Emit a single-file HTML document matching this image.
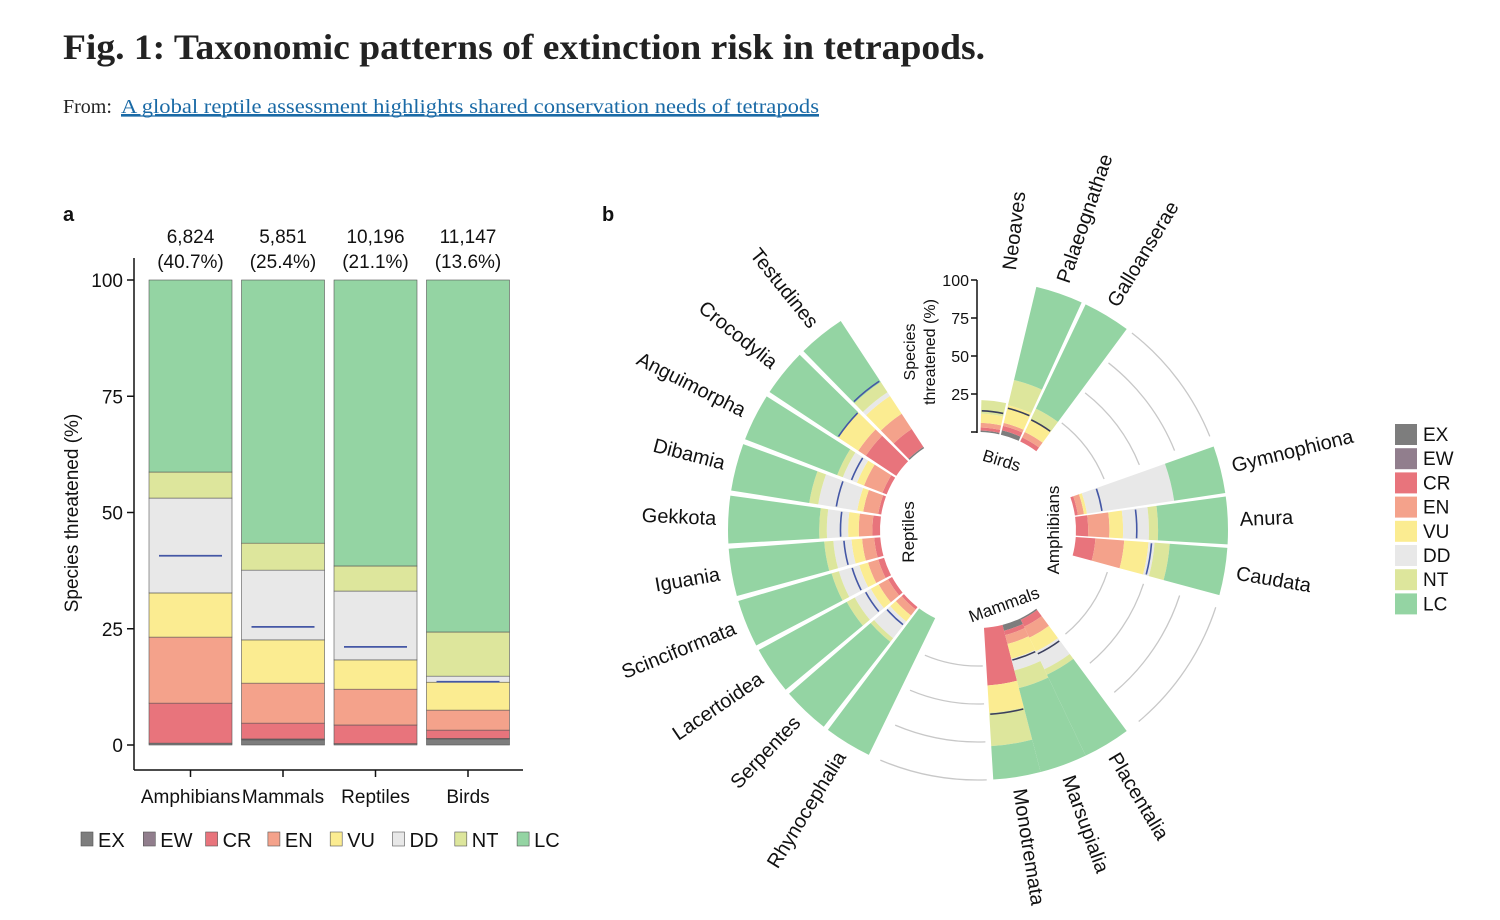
<!DOCTYPE html>
<html><head><meta charset="utf-8"><style>
html,body{margin:0;padding:0;background:#fff;}
svg{display:block;font-family:"Liberation Sans",sans-serif;}
</style></head><body>
<svg id="fig" width="1500" height="920" viewBox="0 0 1500 920" xmlns="http://www.w3.org/2000/svg">
<text x="63" y="59" font-family="Liberation Serif, serif" font-weight="bold" font-size="36" textLength="922" lengthAdjust="spacingAndGlyphs" fill="#222">Fig. 1: Taxonomic patterns of extinction risk in tetrapods.</text>
<text x="63" y="113" font-family="Liberation Serif, serif" font-size="20" fill="#222">From:</text>
<text x="121" y="113" font-family="Liberation Serif, serif" font-size="20" fill="#1a6aa6" text-decoration="underline" textLength="698" lengthAdjust="spacingAndGlyphs">A global reptile assessment highlights shared conservation needs of tetrapods</text>
<line x1="121" y1="116" x2="819" y2="116" stroke="#1a6aa6" stroke-width="1.2"/>
<text x="63" y="221" font-size="20" font-weight="bold" fill="#111">a</text>
<text x="602" y="221" font-size="20" font-weight="bold" fill="#111">b</text>
<g id="pa"></g>
<g id="pb"></g>
</svg>
<script>
// ---------- Panel a data ----------
const catsA = ["Amphibians","Mammals","Reptiles","Birds"];
const countsA = ["6,824","5,851","10,196","11,147"];
const pctA = ["(40.7%)","(25.4%)","(21.1%)","(13.6%)"];
const exA = [0.4,1.1,0.3,1.3];
const ewA = [0,0.2,0,0.1];
const crA = [8.6,3.4,4.0,1.8];
const enA = [14.2,8.6,7.7,4.3];
const vuA = [9.5,9.3,6.3,6.0];
const ddA = [20.4,15.0,14.8,1.3];
const ntA = [5.6,5.8,5.4,9.5];
const lcA = [41.3,56.6,61.5,75.7];
const lineA = [40.7,25.4,21.1,13.6];
const ticksA = [0,25,50,75,100];

// ---------- Panel b data ----------
const ordersB = ["Testudines","Crocodylia","Anguimorpha","Dibamia","Gekkota","Iguania","Scinciformata","Lacertoidea","Serpentes","Rhynocephalia","Neoaves","Palaeognathae","Galloanserae","Gymnophiona","Anura","Caudata","Monotremata","Marsupialia","Placentalia"];
const groupOfB = [0,0,0,0,0,0,0,0,0,0,1,1,1,2,2,2,3,3,3];
const exB = [1,0,0,0,0,0,0,0,0,0, 1,3,0, 0,0,0, 0,4,1];
const ewB = [0,0,0,0,0,0,0,0,0,0, 0,0,0, 0,0,0, 0,0,0];
const crB = [14,24,3,2,5,4,4,3,2,0, 2,3,3, 2,8,13, 38,3,5];
const enB = [12,6,13,10,9,8,7,7,5,0, 3,2,4, 4,14,19, 0,6,8];
const vuB = [14,16,5,4,7,7,6,6,5,0, 6,12,9, 2,9,16, 18,10,10];
const ddB = [3,0,10,26,14,12,14,12,14,0, 0,0,0, 58,17,4, 0,8,13];
const ntB = [8,0,4,6,5,6,5,6,3,0, 9,17,8, 0,6,10, 22,12,4];
const lcB = [48,54,65,52,60,63,64,66,71,100, 0,63,76, 34,46,38, 22,57,59];
const lineB = [53,46,25,30,26,24,22,20,15,0, 14,18,16, 18,40,50, 57,24,26];
const ticksB = [25,50,75,100];

const statusNames = ["EX","EW","CR","EN","VU","DD","NT","LC"];
const colors = ["#7d7d7d","#917e8d","#e8747c","#f4a28b","#fbec91","#e8e8e8","#dde69c","#94d4a3"];
const NS = "http://www.w3.org/2000/svg";
function mk(tag, attrs, parent){const e=document.createElementNS(NS,tag);for(const k in attrs)e.setAttribute(k,attrs[k]);parent.appendChild(e);return e;}

// ---------- Panel a ----------
const pa = document.getElementById("pa");
const seriesA = [exA,ewA,crA,enA,vuA,ddA,ntA,lcA];
const yA = v => 745 - v*4.65;
const xA = i => 149 + i*92.5;
const bwA = 83;
catsA.forEach((c,i)=>{
  let cum = 0;
  seriesA.forEach((s,k)=>{
    const v = s[i];
    if(v>0){
      const r = mk("rect",{x:xA(i),y:yA(cum+v),width:bwA,height:v*4.65,fill:colors[k],stroke:"#555","stroke-width":0.6},pa);
      
      
    }
    cum += v;
  });
  const ln = mk("line",{x1:xA(i)+10,x2:xA(i)+bwA-10,y1:yA(lineA[i]),y2:yA(lineA[i]),stroke:"#4457a5","stroke-width":1.8},pa);
  
  
  const t1 = mk("text",{x:xA(i)+bwA/2,y:243,"text-anchor":"middle","font-size":19,fill:"#111"},pa);
  t1.textContent = countsA[i];
  
  
  const t2 = mk("text",{x:xA(i)+bwA/2,y:268,"text-anchor":"middle","font-size":19,fill:"#111"},pa);
  t2.textContent = pctA[i];
  
  
  const tk = mk("line",{x1:xA(i)+bwA/2,x2:xA(i)+bwA/2,y1:770,y2:777,stroke:"#111","stroke-width":1.5},pa);
  
  
  const cl = mk("text",{x:xA(i)+bwA/2,y:803,"text-anchor":"middle","font-size":19,fill:"#111"},pa);
  cl.textContent = c;
  
  
});
const ya = mk("line",{x1:134,x2:134,y1:258,y2:770,stroke:"#111","stroke-width":1.5},pa);


const xa = mk("line",{x1:134,x2:523,y1:770,y2:770,stroke:"#111","stroke-width":1.5},pa);


ticksA.forEach(t=>{
  const l = mk("line",{x1:127,x2:134,y1:yA(t),y2:yA(t),stroke:"#111","stroke-width":1.5},pa);
  
  
  const tx = mk("text",{x:123,y:yA(t)+7,"text-anchor":"end","font-size":19,fill:"#111"},pa);
  tx.textContent = t;
  
  
});
const yt = mk("text",{x:0,y:0,transform:"translate(78,513) rotate(-90)","text-anchor":"middle","font-size":19,fill:"#111"},pa);
yt.textContent = "Species threatened (%)";


statusNames.forEach((n,k)=>{
  const x = 81 + k*62.3;
  const r = mk("rect",{x:x,y:832,width:12,height:14,fill:colors[k],stroke:"#555","stroke-width":0.6},pa);
  
  
  const t = mk("text",{x:x+17,y:847,"font-size":20,fill:"#111"},pa);
  t.textContent = n;
  
  
});

// ---------- Panel b ----------
const pb = document.getElementById("pb");
const CX = 978, CY = 530, R0 = 98, K = 1.52;
const groupStart = [231.2,-83,-14,81], groupStep = [-12.2,12,11.8,-11];
const halfW = 5.5;
const rad = d => d*Math.PI/180;
const rB = v => R0 + v*K;
function angleOf(i){const g=groupOfB[i];const first=groupOfB.indexOf(g);return groupStart[g]+groupStep[g]*(i-first);}
function sector(r0,r1,a0,a1){
  const p=(r,a)=>(CX+r*Math.cos(rad(a))).toFixed(2)+","+(CY+r*Math.sin(rad(a))).toFixed(2);
  return "M"+p(r0,a0)+" L"+p(r1,a0)+" A"+r1+","+r1+" 0 0 1 "+p(r1,a1)+" L"+p(r0,a1)+" A"+r0+","+r0+" 0 0 0 "+p(r0,a0)+" Z";
}
const gapArcs = [[-52,-22],[18,50],[88,113]];
gapArcs.forEach(g=>{
  ticksB.forEach(t=>{
    const r=rB(t);
    const p=(a)=>(CX+r*Math.cos(rad(a))).toFixed(2)+","+(CY+r*Math.sin(rad(a))).toFixed(2);
    const a = mk("path",{d:"M"+p(g[0])+" A"+r+","+r+" 0 0 1 "+p(g[1]),fill:"none",stroke:"#c8c8c8","stroke-width":1.3},pb);
    
    
  });
});
const seriesB = [exB,ewB,crB,enB,vuB,ddB,ntB,lcB];
ordersB.forEach((o,i)=>{
  const a = angleOf(i);
  let cum = 0;
  seriesB.forEach((s,k)=>{
    const v = s[i];
    if(v>0){
      const p = mk("path",{d:sector(rB(cum),rB(cum+v),a-halfW,a+halfW),fill:colors[k]},pb);
      
      
    }
    cum += v;
  });
  if(lineB[i]>0){
    const r=rB(lineB[i]);
    const p=(an)=>(CX+r*Math.cos(rad(an))).toFixed(2)+","+(CY+r*Math.sin(rad(an))).toFixed(2);
    const l = mk("path",{d:"M"+p(a-halfW+0.3)+" A"+r+","+r+" 0 0 1 "+p(a+halfW-0.3),fill:"none",stroke:groupOfB[i]===1||groupOfB[i]===3?"#3b3f5c":"#4457a5","stroke-width":1.6},pb);
    
    
  }
  const lr = 262;
  const lx = CX+lr*Math.cos(rad(a)), ly = CY+lr*Math.sin(rad(a));
  const cosA = Math.cos(rad(a));
  const left = cosA < -0.05 || (a>100 && a<270);
  const rot = left ? a-180 : a;
  const t = mk("text",{x:0,y:0,transform:"translate("+lx.toFixed(1)+","+ly.toFixed(1)+") rotate("+rot.toFixed(1)+")","text-anchor":left?"end":"start","dominant-baseline":"central","font-size":20,fill:"#111"},pb);
  t.textContent = o;
  
  
});
const bax = mk("line",{x1:977,x2:977,y1:CY-rB(0)+1,y2:CY-rB(100),stroke:"#111","stroke-width":1.5},pb);


ticksB.forEach(t=>{
  const y = CY - rB(t);
  const l = mk("line",{x1:971,x2:977,y1:y,y2:y,stroke:"#111","stroke-width":1.5},pb);
  
  
  const tx = mk("text",{x:969,y:y+6,"text-anchor":"end","font-size":16,fill:"#111"},pb);
  tx.textContent = t;
  
  
});
const bl0 = mk("line",{x1:971,x2:977,y1:CY-rB(0),y2:CY-rB(0),stroke:"#111","stroke-width":1.5},pb);


const at1 = mk("text",{x:0,y:0,transform:"translate(915,352) rotate(-90)","text-anchor":"middle","font-size":16,fill:"#111"},pb);
at1.textContent="Species";


const at2 = mk("text",{x:0,y:0,transform:"translate(935,352) rotate(-90)","text-anchor":"middle","font-size":16,fill:"#111"},pb);
at2.textContent="threatened (%)";


const groupLabels = [["Reptiles",914,532,-90],["Birds",1000,466,17],["Amphibians",1059,530,-90],["Mammals",1006,610,-20]];
groupLabels.forEach(g=>{
  const t = mk("text",{x:0,y:0,transform:"translate("+g[1]+","+g[2]+") rotate("+g[3]+")","text-anchor":"middle","font-size":17,fill:"#111"},pb);
  t.textContent = g[0];
  
  
});
statusNames.forEach((n,k)=>{
  const y = 424 + k*24.2;
  const r = mk("rect",{x:1395,y:y,width:22,height:21,fill:colors[k]},pb);
  
  
  const t = mk("text",{x:1423,y:y+17,"font-size":19,fill:"#111"},pb);
  t.textContent = n;
  
  
});
</script>
</body></html>
